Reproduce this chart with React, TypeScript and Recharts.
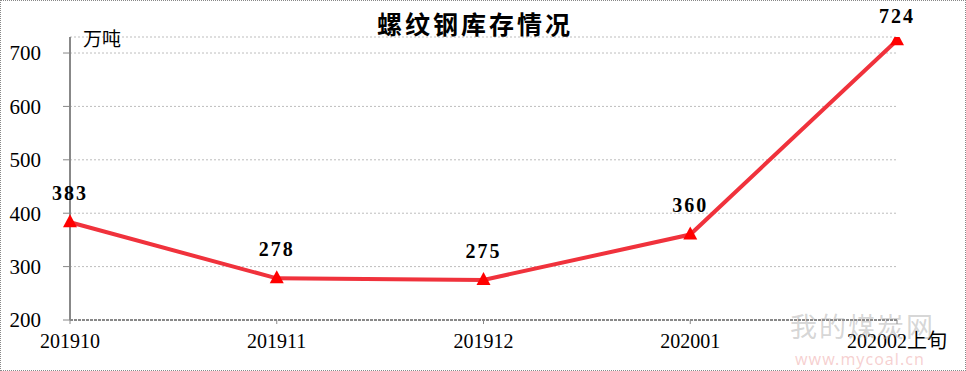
import { LineChart, Line, XAxis, YAxis, CartesianGrid, LabelList } from 'recharts';

const months = ['201910', '201911', '201912', '202001', '202002上旬'];
const stock = [383, 278, 275, 360, 724];
const yTicks = [200, 300, 400, 500, 600, 700];

const data = months.map((m, i) => ({ month: m, value: stock[i] }));

const LINE_RED = '#f0323c';
const MARK_RED = '#ff0000';
const SERIF = '"Liberation Serif", "Noto Sans CJK SC", serif';

const Triangle = (props: any) => {
  const { cx, cy } = props;
  if (cx == null || cy == null) return null;
  return <path d={`M${cx},${cy - 8} L${cx + 7},${cy + 5} L${cx - 7},${cy + 5} Z`} fill={MARK_RED} />;
};

const ValueLabel = (props: any) => {
  const { x, y, value } = props;
  return (
    <text x={x} y={Math.max(y - 27, 18)} textAnchor="middle" dominantBaseline="middle" fontFamily={SERIF}
      fontWeight="bold" fontSize={20} letterSpacing={2} fill="#000">
      {value}
    </text>
  );
};

const App = () => {
  return (
    <div style={{ position: 'absolute', left: 0, top: 0, width: 966, height: 371, background: '#fff' }}>
      <div style={{ position: 'absolute', left: 0, top: 0, width: 964, height: 369, border: '1px dotted #888' }} />
      <LineChart width={966} height={371} data={data} margin={{ top: 37, right: 69, bottom: 21, left: 8 }}>
        <CartesianGrid vertical={false} stroke="#bdbdbd" strokeDasharray="2 2" />
        <XAxis dataKey="month" height={30} tickSize={4} tickMargin={10}
          axisLine={{ stroke: '#888', strokeWidth: 2, strokeDasharray: '3 1' }}
          tickLine={{ stroke: '#888' }} interval={0}
          tick={{ fontFamily: SERIF, fontSize: 20, fill: '#000' }} />
        <YAxis width={62} domain={[200, 730]} ticks={yTicks} tickSize={7} tickMargin={22}
          axisLine={{ stroke: '#888', strokeWidth: 2 }} tickLine={{ stroke: '#888' }}
          tick={{ fontFamily: SERIF, fontSize: 21, fill: '#000' }} allowDataOverflow />
        <Line type="linear" dataKey="value" stroke={LINE_RED} strokeWidth={4}
          dot={<Triangle />} activeDot={false} isAnimationActive={false}>
          <LabelList dataKey="value" content={<ValueLabel />} />
        </Line>
      </LineChart>
      <div style={{ position: 'absolute', left: 0, top: 5, width: 950, textAlign: 'center',
        fontFamily: '"Noto Sans CJK SC", serif', fontWeight: 'bold', fontSize: 25, letterSpacing: 3, color: '#000' }}>
        螺纹钢库存情况
      </div>
      <div style={{ position: 'absolute', left: 83, top: 24, fontFamily: '"Noto Sans CJK SC", serif',
        fontSize: 19, color: '#000' }}>
        万吨
      </div>
      <div style={{ position: 'absolute', left: 790, top: 306, fontFamily: '"Noto Sans CJK SC", sans-serif',
        fontSize: 27, color: 'rgba(150,150,150,0.4)', letterSpacing: 2 }}>
        我的煤炭网
      </div>
      <div style={{ position: 'absolute', left: 795, top: 348, fontFamily: '"Noto Sans", sans-serif',
        fontSize: 16, color: 'rgba(230,120,120,0.35)', letterSpacing: 1 }}>
        www.mycoal.cn
      </div>
    </div>
  );
};

export default App;
